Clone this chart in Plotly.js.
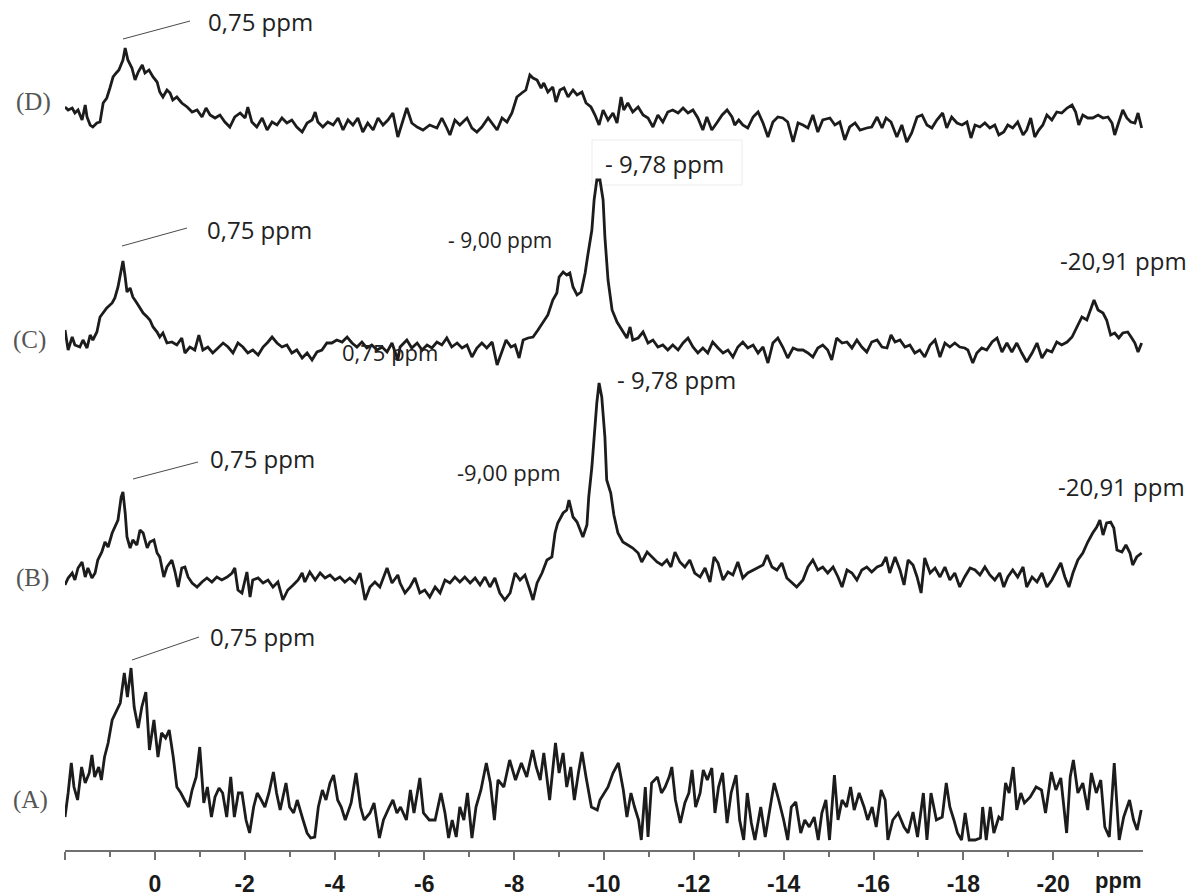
<!DOCTYPE html>
<html><head><meta charset="utf-8">
<script src="https://cdn.plot.ly/plotly-3.0.1.min.js"></script>
<style>html,body{margin:0;padding:0;background:#fff;}#chart{width:1202px;height:896px;}</style>
</head><body><div id="chart"></div>
<script>
// ---------- data (chemical shift in ppm, intensity in arbitrary units) ----------
const ppmA = [2.0,1.93,1.86,1.8,1.72,1.63,1.55,1.46,1.4,1.34,
1.25,1.19,1.12,1.04,0.95,0.87,0.77,0.68,0.61,0.53,
0.46,0.37,0.29,0.2,0.12,0.02,-0.07,-0.15,-0.24,-0.32,
-0.41,-0.49,-0.58,-0.66,-0.75,-0.83,-0.92,-1.0,-1.09,-1.17,
-1.26,-1.34,-1.43,-1.51,-1.6,-1.69,-1.77,-1.86,-1.94,-2.03,
-2.11,-2.2,-2.28,-2.37,-2.45,-2.54,-2.64,-2.71,-2.79,-2.92,
-3.0,-3.09,-3.17,-3.3,-3.39,-3.47,-3.56,-3.64,-3.73,-3.81,
-3.9,-3.98,-4.07,-4.15,-4.24,-4.37,-4.48,-4.58,-4.66,-4.79,
-4.88,-5.0,-5.09,-5.22,-5.3,-5.39,-5.47,-5.6,-5.69,-5.77,
-5.9,-5.98,-6.11,-6.24,-6.37,-6.46,-6.54,-6.62,-6.71,-6.79,
-6.88,-6.96,-7.06,-7.15,-7.26,-7.38,-7.47,-7.56,-7.64,-7.77,
-7.9,-8.03,-8.16,-8.28,-8.41,-8.49,-8.58,-8.66,-8.79,-8.92,
-9.0,-9.09,-9.17,-9.26,-9.34,-9.43,-9.51,-9.6,-9.72,-9.85,
-9.91,-10.09,-10.2,-10.32,-10.43,-10.51,-10.6,-10.68,-10.77,-10.83,
-10.92,-10.98,-11.06,-11.19,-11.28,-11.36,-11.45,-11.51,-11.59,-11.7,
-11.8,-11.89,-11.96,-12.04,-12.14,-12.21,-12.3,-12.4,-12.47,-12.55,
-12.64,-12.74,-12.83,-12.94,-13.02,-13.11,-13.19,-13.28,-13.36,-13.49,
-13.59,-13.7,-13.79,-13.89,-14.0,-14.09,-14.17,-14.27,-14.38,-14.47,
-14.57,-14.68,-14.77,-14.85,-14.94,-15.02,-15.13,-15.21,-15.3,-15.4,
-15.49,-15.57,-15.68,-15.79,-15.87,-15.97,-16.06,-16.17,-16.26,-16.32,
-16.43,-16.55,-16.68,-16.77,-16.88,-16.98,-17.11,-17.19,-17.28,-17.4,
-17.53,-17.62,-17.7,-17.79,-17.87,-17.96,-18.04,-18.13,-18.26,-18.38,
-18.43,-18.51,-18.6,-18.68,-18.79,-18.86,-18.94,-19.02,-19.11,-19.19,
-19.28,-19.36,-19.49,-19.62,-19.74,-19.83,-19.96,-20.06,-20.17,-20.3,
-20.38,-20.45,-20.55,-20.66,-20.77,-20.85,-20.96,-21.06,-21.15,-21.25,
-21.36,-21.47,-21.57,-21.7,-21.79,-21.87,-21.96];
const intA = [23,47,77,53,40,73,57,67,85,63,
73,60,83,97,120,127,137,167,143,172,
133,112,133,148,90,120,83,107,102,110,
83,53,47,40,33,50,63,93,37,53,
23,43,52,47,23,63,23,47,47,20,
7,33,47,40,33,47,68,47,30,57,
33,27,40,20,7,2,3,33,50,40,
57,65,40,33,20,37,67,33,20,27,
37,2,20,33,40,27,33,20,50,27,
62,27,20,20,47,27,2,20,3,33,
20,47,2,33,50,77,57,20,60,53,
80,60,77,63,90,73,60,87,40,97,
67,87,53,73,40,67,88,63,33,30,
40,53,67,77,50,23,47,33,20,0,
53,3,57,63,47,53,63,73,40,17,
37,47,70,33,47,70,60,72,27,53,
67,17,47,65,20,0,47,17,0,33,
3,33,57,40,20,0,33,38,7,20,
13,23,0,27,40,0,65,20,40,33,
53,30,47,33,20,33,13,50,40,0,
20,27,13,7,28,3,47,0,47,20,
23,57,33,20,7,0,27,0,0,2,
33,0,33,7,23,20,57,47,73,30,
47,37,43,53,50,27,68,50,62,7,
63,80,47,57,30,67,47,60,13,3,
77,0,23,40,20,10,30];

const ppmB = [2.00,1.93,1.84,1.78,1.71,1.62,1.55,1.49,1.40,1.33,
1.27,1.18,1.11,1.04,0.95,0.89,0.82,0.75,0.71,0.66,
0.62,0.55,0.49,0.40,0.33,0.26,0.17,0.11,0.02,-0.05,
-0.11,-0.20,-0.27,-0.38,-0.45,-0.52,-0.60,-0.67,-0.74,-0.83,
-0.94,-1.05,-1.16,-1.27,-1.38,-1.49,-1.61,-1.72,-1.78,-1.85,
-1.94,-2.05,-2.12,-2.18,-2.30,-2.41,-2.52,-2.63,-2.74,-2.85,
-2.96,-3.08,-3.19,-3.28,-3.34,-3.45,-3.57,-3.68,-3.79,-3.90,
-4.01,-4.12,-4.23,-4.34,-4.46,-4.57,-4.68,-4.79,-4.90,-5.01,
-5.17,-5.28,-5.41,-5.46,-5.57,-5.68,-5.79,-5.90,-6.01,-6.12,
-6.24,-6.35,-6.46,-6.57,-6.68,-6.79,-6.90,-7.02,-7.13,-7.24,
-7.35,-7.46,-7.57,-7.68,-7.79,-7.91,-8.02,-8.13,-8.24,-8.35,
-8.42,-8.51,-8.62,-8.73,-8.84,-8.91,-8.97,-9.09,-9.17,-9.22,
-9.31,-9.40,-9.46,-9.53,-9.62,-9.66,-9.73,-9.78,-9.84,-9.89,
-9.95,-10.02,-10.06,-10.15,-10.22,-10.31,-10.42,-10.53,-10.64,-10.76,
-10.84,-10.96,-11.07,-11.18,-11.29,-11.40,-11.49,-11.58,-11.69,-11.80,
-11.91,-12.02,-12.14,-12.25,-12.36,-12.45,-12.54,-12.65,-12.76,-12.87,
-12.98,-13.09,-13.20,-13.32,-13.43,-13.54,-13.63,-13.74,-13.85,-13.96,
-14.07,-14.18,-14.29,-14.43,-14.54,-14.65,-14.76,-14.87,-14.98,-15.10,
-15.21,-15.30,-15.41,-15.52,-15.63,-15.74,-15.85,-15.96,-16.08,-16.19,
-16.28,-16.36,-16.48,-16.59,-16.68,-16.77,-16.88,-16.97,-17.06,-17.14,
-17.26,-17.37,-17.48,-17.59,-17.70,-17.81,-17.92,-18.03,-18.15,-18.26,
-18.37,-18.48,-18.59,-18.70,-18.81,-18.90,-18.99,-19.10,-19.21,-19.33,
-19.41,-19.53,-19.64,-19.75,-19.86,-19.97,-20.08,-20.17,-20.26,-20.35,
-20.44,-20.55,-20.66,-20.77,-20.88,-20.97,-21.04,-21.11,-21.19,-21.28,
-21.35,-21.42,-21.53,-21.62,-21.71,-21.77,-21.86,-21.97];
const intB = [0,7,12,5,17,23,8,17,7,12,
25,33,43,38,52,58,65,88,93,72,
48,37,45,40,55,52,37,43,45,32,
28,8,18,25,13,-2,17,18,8,2,
-2,3,7,3,8,5,8,12,17,-5,
-8,13,-12,5,7,2,5,-2,3,-15,
-5,0,5,12,3,13,5,12,7,10,
5,8,3,7,2,12,-15,-2,3,-2,
17,2,10,2,-8,-2,7,-8,-5,-12,
-2,-8,5,2,8,3,8,2,7,0,
8,-2,7,-8,-15,-8,12,5,10,-5,
-15,2,12,25,28,52,62,72,75,85,
68,63,55,48,60,88,118,148,182,202,
188,148,105,92,70,52,43,40,37,32,
23,33,28,23,20,25,18,33,23,18,
25,12,8,17,3,28,22,5,13,10,
23,7,12,15,17,20,30,18,15,22,
7,2,-2,5,18,25,15,18,12,18,
8,-2,15,12,5,15,18,13,18,20,
28,12,28,15,0,25,20,8,-8,27,
12,17,8,18,5,12,-2,8,17,15,
10,18,10,5,12,-2,8,15,8,18,
-2,8,3,12,-2,5,15,22,8,-2,
12,25,32,43,52,58,65,50,62,63,
57,35,33,40,32,20,28,32];

const ppmC = [2.00,1.93,1.84,1.78,1.67,1.60,1.51,1.44,1.38,1.29,
1.22,1.15,1.07,0.95,0.89,0.82,0.75,0.71,0.66,0.62,
0.55,0.49,0.40,0.33,0.26,0.17,0.11,0.04,-0.05,-0.11,
-0.18,-0.27,-0.38,-0.49,-0.60,-0.67,-0.78,-0.89,-0.98,-1.07,
-1.18,-1.29,-1.41,-1.52,-1.63,-1.74,-1.85,-1.96,-2.07,-2.18,
-2.30,-2.41,-2.52,-2.61,-2.72,-2.83,-2.94,-3.05,-3.16,-3.28,
-3.39,-3.50,-3.61,-3.72,-3.83,-3.94,-4.05,-4.17,-4.28,-4.39,
-4.50,-4.61,-4.72,-4.83,-4.95,-5.06,-5.17,-5.28,-5.41,-5.46,
-5.61,-5.72,-5.84,-5.95,-6.06,-6.17,-6.28,-6.39,-6.50,-6.61,
-6.73,-6.84,-6.95,-7.06,-7.17,-7.28,-7.39,-7.51,-7.62,-7.73,
-7.82,-7.93,-8.02,-8.11,-8.20,-8.31,-8.42,-8.53,-8.64,-8.75,
-8.86,-8.95,-9.00,-9.09,-9.17,-9.24,-9.31,-9.40,-9.49,-9.58,
-9.64,-9.73,-9.78,-9.84,-9.91,-9.98,-10.02,-10.09,-10.18,-10.29,
-10.40,-10.51,-10.58,-10.64,-10.76,-10.87,-10.98,-11.09,-11.20,-11.31,
-11.42,-11.53,-11.65,-11.76,-11.87,-11.98,-12.09,-12.20,-12.31,-12.42,
-12.54,-12.65,-12.76,-12.87,-12.98,-13.09,-13.20,-13.32,-13.43,-13.54,
-13.65,-13.76,-13.87,-13.98,-14.09,-14.21,-14.32,-14.43,-14.54,-14.65,
-14.76,-14.87,-14.98,-15.07,-15.18,-15.30,-15.41,-15.52,-15.63,-15.74,
-15.85,-15.96,-16.08,-16.19,-16.30,-16.39,-16.48,-16.59,-16.70,-16.81,
-16.92,-17.03,-17.14,-17.26,-17.37,-17.48,-17.59,-17.70,-17.81,-17.92,
-18.03,-18.10,-18.21,-18.30,-18.41,-18.52,-18.64,-18.75,-18.86,-18.97,
-19.08,-19.19,-19.30,-19.41,-19.53,-19.64,-19.75,-19.86,-19.97,-20.08,
-20.19,-20.31,-20.42,-20.53,-20.64,-20.75,-20.82,-20.91,-21.00,-21.11,
-21.19,-21.28,-21.37,-21.46,-21.55,-21.66,-21.75,-21.82,-21.89,-21.97];
const intC = [22,2,15,7,5,12,4,17,12,20,
35,39,44,49,54,65,82,91,75,60,
64,55,49,44,39,35,32,25,20,15,
19,9,10,7,14,-1,5,2,17,2,
5,-1,4,9,5,-1,9,5,-1,2,
-3,5,10,15,9,5,7,-1,2,-6,
-1,-8,0,2,9,9,12,10,15,9,
5,10,4,7,2,5,0,9,-8,5,
12,4,9,2,7,4,10,7,14,5,
9,4,7,-5,4,9,4,10,-13,2,
12,5,7,-6,12,14,15,22,29,37,
52,59,75,80,77,79,65,57,60,79,
97,122,152,172,172,152,115,72,42,30,
22,14,25,12,14,20,9,12,5,7,
2,7,2,9,14,5,-1,4,-1,10,
4,-1,2,-5,5,10,4,7,-1,5,
-11,9,14,5,-6,4,2,2,-1,-5,
4,7,2,-8,14,9,10,4,12,5,
0,10,12,5,4,17,10,12,5,7,
-1,2,-5,7,12,-5,9,5,9,5,
4,2,-11,-1,4,2,10,14,0,9,
0,9,-1,-10,-1,9,-6,2,0,10,
7,10,15,25,35,32,40,52,42,39,
32,17,19,14,19,20,14,9,0,9];

const ppmD = [2.00,1.93,1.84,1.78,1.71,1.62,1.55,1.51,1.44,1.38,
1.29,1.22,1.15,1.07,1.00,0.93,0.86,0.80,0.71,0.66,
0.60,0.51,0.44,0.37,0.28,0.22,0.13,0.04,-0.05,-0.11,
-0.18,-0.27,-0.34,-0.40,-0.49,-0.60,-0.72,-0.83,-0.94,-1.05,
-1.14,-1.23,-1.34,-1.45,-1.56,-1.67,-1.78,-1.90,-2.01,-2.07,
-2.16,-2.27,-2.39,-2.50,-2.61,-2.72,-2.83,-2.94,-3.05,-3.16,
-3.28,-3.39,-3.50,-3.57,-3.63,-3.74,-3.85,-3.97,-4.08,-4.19,
-4.30,-4.41,-4.52,-4.63,-4.74,-4.86,-4.97,-5.08,-5.19,-5.30,
-5.41,-5.46,-5.61,-5.72,-5.84,-5.97,-6.12,-6.28,-6.39,-6.50,
-6.57,-6.68,-6.79,-6.95,-7.06,-7.17,-7.28,-7.42,-7.53,-7.62,
-7.73,-7.84,-7.95,-8.06,-8.17,-8.26,-8.35,-8.42,-8.51,-8.60,
-8.66,-8.75,-8.86,-8.93,-9.02,-9.11,-9.20,-9.31,-9.40,-9.51,
-9.60,-9.71,-9.80,-9.89,-9.98,-10.09,-10.20,-10.29,-10.38,-10.44,
-10.53,-10.64,-10.76,-10.87,-10.98,-11.09,-11.20,-11.31,-11.42,-11.53,
-11.65,-11.76,-11.87,-11.98,-12.09,-12.20,-12.29,-12.40,-12.51,-12.63,
-12.74,-12.85,-12.91,-13.00,-13.09,-13.20,-13.32,-13.43,-13.54,-13.65,
-13.76,-13.87,-13.98,-14.09,-14.21,-14.32,-14.43,-14.54,-14.65,-14.76,
-14.87,-15.03,-15.14,-15.25,-15.36,-15.47,-15.59,-15.70,-15.85,-15.96,
-16.08,-16.19,-16.28,-16.39,-16.52,-16.63,-16.74,-16.85,-16.97,-17.08,
-17.19,-17.30,-17.41,-17.54,-17.63,-17.74,-17.86,-17.97,-18.08,-18.17,
-18.26,-18.37,-18.48,-18.59,-18.70,-18.79,-18.90,-18.99,-19.10,-19.21,
-19.33,-19.41,-19.50,-19.59,-19.68,-19.77,-19.86,-19.97,-20.08,-20.19,
-20.31,-20.42,-20.50,-20.57,-20.66,-20.77,-20.88,-21.00,-21.11,-21.22,
-21.31,-21.37,-21.44,-21.55,-21.64,-21.73,-21.82,-21.89,-21.97];
const intD = [21,18,20,15,18,8,23,11,3,1,
5,6,25,30,40,51,55,58,68,80,
68,60,48,56,63,55,58,51,46,36,
31,38,35,28,31,25,21,16,18,11,
20,13,10,13,6,1,11,15,10,21,
6,1,10,-2,6,3,10,5,8,1,
-4,5,8,16,6,1,6,3,10,-2,
8,3,10,-4,5,-2,10,3,8,15,
-9,-2,20,5,1,-2,3,0,10,0,
-7,8,3,10,0,-4,1,10,3,-2,
10,6,15,31,35,38,53,50,48,40,
45,36,41,26,38,40,31,38,33,36,
25,21,13,3,18,8,15,5,31,18,
25,16,21,13,10,1,13,6,16,18,
15,20,15,18,10,-2,11,-2,5,13,
18,11,3,8,3,0,11,16,5,-9,
6,11,10,6,-14,5,3,0,13,-4,
8,10,3,6,-12,1,5,-2,0,1,
11,0,10,6,-9,3,-14,-5,11,13,
3,0,8,15,0,11,5,3,6,-10,
3,1,5,0,3,-7,-4,3,0,6,
-7,-2,10,-9,-2,3,13,8,16,15,
20,23,16,3,13,10,10,13,10,11,
5,-7,3,18,10,6,5,15,0];

const spectrumLabels = ['(A)','(B)','(C)','(D)'];
const tickValues = [2,0,-2,-4,-6,-8,-10,-12,-14,-16,-18,-20];
const tickLabels = ['','0','-2','-4','-6','-8','-10','-12','-14','-16','-18','-20'];
const minorTickValues = [1,-1,-3,-5,-7,-9,-11,-13,-15,-17,-19,-21];
const peakLabels = ['0,75 ppm','- 9,00 ppm','-9,00 ppm','- 9,78 ppm','-20,91 ppm'];

// ---------- layout helpers (pixel -> paper) ----------
const L = 65, PW = 1078, PH = 850;
const fx = x => (x - L) / PW;
const fy = y => (PH - y) / PH;

const lineStyle = {color:'#1c1c1c', width:2.8};
const series = [
  {x:ppmA, y:intA, yaxis:'y'},
  {x:ppmB, y:intB, yaxis:'y2'},
  {x:ppmC, y:intC, yaxis:'y3'},
  {x:ppmD, y:intD, yaxis:'y4'}
];
const data = series.map((s,i) => ({
  type:'scatter', mode:'lines', x:s.x, y:s.y, yaxis:s.yaxis,
  name:spectrumLabels[i], line:lineStyle, hoverinfo:'skip'
}));

// baseline pixel position of each spectrum
function yr(basePx){ return [basePx - PH, basePx]; }
const hiddenY = {visible:false, showgrid:false, zeroline:false, fixedrange:true};

const txtFont = {family:'Open Sans, Noto Sans, sans-serif', size:24, color:'#222'};
const lblFont = {family:'Liberation Serif, Times New Roman, serif', size:25, color:'#555'};
const f = s => Object.assign({}, txtFont, {size:s});

function ann(text, x, y, font, xanchor){
  return {text:text, xref:'paper', yref:'paper', x:fx(x), y:fy(y),
    xanchor:xanchor||'left', yanchor:'middle', showarrow:false, font:font};
}
const annotations = [
  ann(spectrumLabels[3], 33, 102, lblFont, 'center'),
  ann(spectrumLabels[2], 29, 340, lblFont, 'center'),
  ann(spectrumLabels[1], 32, 578, lblFont, 'center'),
  ann(spectrumLabels[0], 30, 800, lblFont, 'center'),
  ann(peakLabels[0], 206, 22, txtFont),
  ann(peakLabels[0], 205, 229, txtFont),
  ann(peakLabels[0], 208, 458, txtFont),
  ann(peakLabels[0], 208, 636, txtFont),
  ann(peakLabels[0], 340, 352, f(22)),
  ann(peakLabels[3], 603, 163, txtFont),
  ann(peakLabels[1], 446, 240, f(21)),
  ann(peakLabels[4], 1058, 261, txtFont),
  ann(peakLabels[3], 615, 380, txtFont),
  ann(peakLabels[2], 455, 472, f(22)),
  ann(peakLabels[4], 1056, 486, txtFont),
  {text:'ppm', xref:'paper', yref:'paper', x:1, y:fy(881), xanchor:'right', yanchor:'middle',
   showarrow:false, font:{family:'Liberation Sans, Arial, sans-serif', size:22, color:'#1a1a1a', weight:'bold'}}
];

function seg(x0,y0,x1,y1){
  return {type:'line', xref:'paper', yref:'paper', x0:fx(x0), y0:fy(y0), x1:fx(x1), y1:fy(y1),
    line:{color:'#4a4a4a', width:1}};
}
const shapes = [
  seg(123,39,190,21), seg(122,246,187,228), seg(133,479,198,462), seg(132,660,199,637),
  {type:'rect', xref:'paper', yref:'paper', x0:fx(592), y0:fy(140), x1:fx(742), y1:fy(185),
   line:{color:'#ececec', width:1}, layer:'below'}
];

const layout = {
  width:1202, height:896,
  margin:{l:65, r:59, t:0, b:46},
  paper_bgcolor:'#fff', plot_bgcolor:'#fff',
  showlegend:false,
  xaxis:{
    range:[2,-22], showgrid:false, zeroline:false, fixedrange:true,
    showline:true, linecolor:'#707070', linewidth:2,
    ticks:'outside', ticklen:8, tickwidth:2, tickcolor:'#707070',
    tickmode:'array', tickvals:tickValues, ticktext:tickLabels,
    ticklabelstandoff:4,
    tickfont:{family:'Liberation Sans, Arial, sans-serif', size:23, color:'#1a1a1a', weight:'bold'},
    minor:{tickmode:'array', tickvals:minorTickValues, ticks:'outside', ticklen:5, tickwidth:2, tickcolor:'#707070', showgrid:false}
  },
  yaxis:Object.assign({range:yr(840)}, hiddenY),
  yaxis2:Object.assign({range:yr(585), overlaying:'y'}, hiddenY),
  yaxis3:Object.assign({range:yr(352), overlaying:'y'}, hiddenY),
  yaxis4:Object.assign({range:yr(128), overlaying:'y'}, hiddenY),
  annotations:annotations,
  shapes:shapes
};

Plotly.newPlot('chart', data, layout, {displayModeBar:false, staticPlot:true});
</script></body></html>
